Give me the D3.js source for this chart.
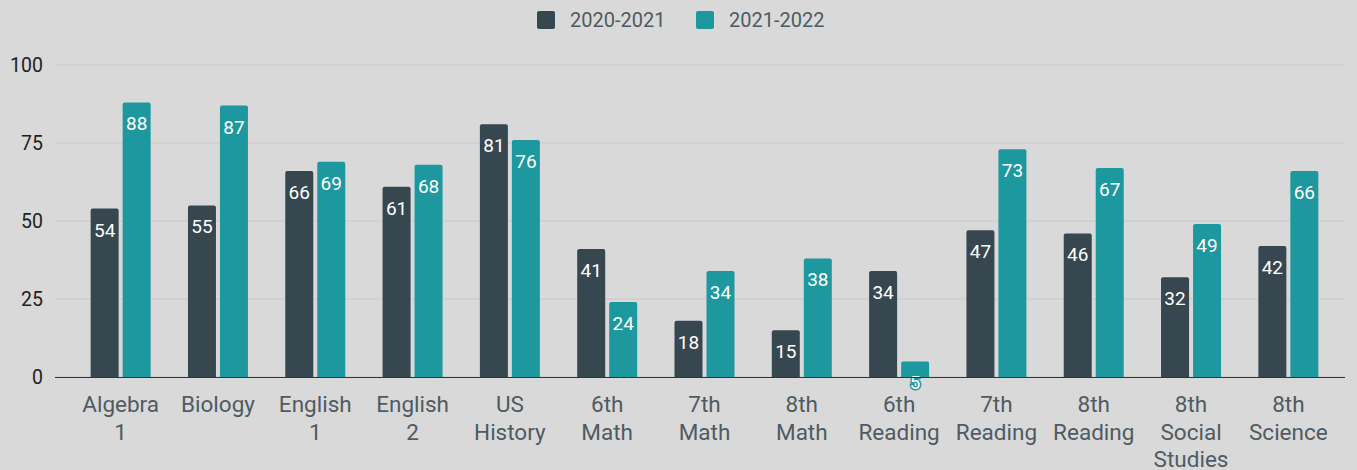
<!DOCTYPE html>
<html>
<head>
<meta charset="utf-8">
<script src="https://cdn.jsdelivr.net/npm/d3@7"></script>
<style>
  body { margin: 0; background: #d9d9d9; }
  text { font-family: Roboto, "Noto Sans", sans-serif; }
</style>
</head>
<body>
<script>
// chart data
var subjects = [["Algebra", "1"], ["Biology"], ["English", "1"], ["English", "2"], ["US", "History"],
    ["6th", "Math"], ["7th", "Math"], ["8th", "Math"], ["6th", "Reading"], ["7th", "Reading"],
    ["8th", "Reading"], ["8th", "Social", "Studies"], ["8th", "Science"]];
var years = ["2020-2021", "2021-2022"];
var scores2021 = [54, 55, 66, 61, 81, 41, 18, 15, 34, 47, 46, 32, 42];
var scores2022 = [88, 87, 69, 68, 76, 24, 34, 38, 5, 73, 67, 49, 66];
var yTicks = [0, 25, 50, 75, 100];

var width = 1357,
    height = 470;
var colors = ["#37474f", "#1e989f"];

var svg = d3.select("body").append("svg")
    .attr("width", width)
    .attr("height", height);

var x = d3.scaleBand()
    .domain(d3.range(subjects.length))
    .range([72, 1337]);

var y = d3.scaleLinear()
    .domain([0, 100])
    .range([377, 65]);

// gridlines
svg.selectAll("line.grid")
  .data(yTicks)
  .enter().append("line")
    .attr("class", "grid")
    .attr("x1", 55)
    .attr("x2", 1345)
    .attr("y1", function(d) { return y(d); })
    .attr("y2", function(d) { return y(d); })
    .attr("stroke", "#c9c9c9")
    .attr("stroke-width", 1);

// y tick labels
svg.selectAll("text.ytick")
  .data(yTicks)
  .enter().append("text")
    .attr("class", "ytick")
    .attr("x", 43)
    .attr("y", function(d) { return y(d) + 7; })
    .attr("text-anchor", "end")
    .attr("font-size", 19.5)
    .attr("fill", "#222")
    .text(function(d) { return d; });

var barW = 28, gap = 4;
var series = [scores2021, scores2022];

series.forEach(function(vals, s) {
    var g = svg.append("g");
    var bx = function(i) {
        return x(i) + x.bandwidth() / 2 + (s === 0 ? -gap / 2 - barW : gap / 2);
    };
    g.selectAll("path")
      .data(vals)
      .enter().append("path")
        .attr("fill", colors[s])
        .attr("d", function(d, i) {
            var x0 = bx(i), y0 = y(d), y1 = y(0), r = 2;
            return "M" + x0 + "," + y1 + "V" + (y0 + r) + "Q" + x0 + "," + y0 + " " + (x0 + r) + "," + y0 +
                "H" + (x0 + barW - r) + "Q" + (x0 + barW) + "," + y0 + " " + (x0 + barW) + "," + (y0 + r) +
                "V" + y1 + "Z";
        });
    g.selectAll("text")
      .data(vals)
      .enter().append("text")
        .attr("x", function(d, i) { return bx(i) + barW / 2; })
        .attr("y", function(d) { return y(d) + 28; })
        .attr("text-anchor", "middle")
        .attr("font-size", 19)
        .attr("fill", "#fff")
        .attr("stroke", colors[s])
        .attr("stroke-width", 3)
        .attr("paint-order", "stroke")
        .text(function(d) { return d; });
});

// baseline
svg.append("line")
    .attr("x1", 55)
    .attr("x2", 1345)
    .attr("y1", y(0) + 0.5)
    .attr("y2", y(0) + 0.5)
    .attr("stroke", "#333")
    .attr("stroke-width", 1);

// category labels
var cat = svg.selectAll("text.cat")
  .data(subjects)
  .enter().append("text")
    .attr("class", "cat")
    .attr("text-anchor", "middle")
    .attr("font-size", 22.5)
    .attr("fill", "#4f5b62");
cat.selectAll("tspan")
  .data(function(d, i) { return d.map(function(t) { return { t: t, i: i }; }); })
  .enter().append("tspan")
    .attr("x", function(d) { return x(d.i) + x.bandwidth() / 2; })
    .attr("y", function(d, j) { return 412 + j * 27.5; })
    .text(function(d) { return d.t; });

// legend
var legend = svg.append("g");
var legX = [537, 696];
years.forEach(function(yr, i) {
    legend.append("rect")
        .attr("x", legX[i])
        .attr("y", 11)
        .attr("width", 18)
        .attr("height", 18)
        .attr("rx", 2)
        .attr("fill", colors[i]);
    legend.append("text")
        .attr("x", legX[i] + 33)
        .attr("y", 27)
        .attr("font-size", 20)
        .attr("fill", "#4f5b62")
        .text(yr);
});
</script>
</body>
</html>
